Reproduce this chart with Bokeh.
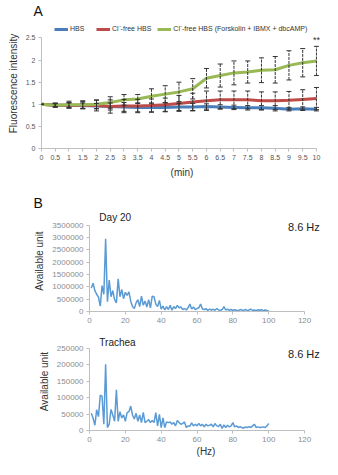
from bokeh.plotting import figure
from bokeh.models import (ColumnDataSource, Whisker, TeeHead, Legend, LegendItem,
                          FixedTicker, Label, NumeralTickFormatter, Range1d)
from bokeh.embed import file_html
from bokeh.resources import INLINE

# ---------------- Panel A data ----------------
time_min = [0, 0.5, 1, 1.5, 2, 2.5, 3, 3.5, 4, 4.5, 5, 5.5, 6, 6.5, 7, 7.5, 8, 8.5, 9, 9.5, 10]
time_labels = ["0", "0.5", "1", "1.5", "2", "2.5", "3", "3.5", "4", "4.5", "5", "5.5",
               "6", "6.5", "7", "7.5", "8", "8.5", "9", "9.5", "10"]
hbs = [1.0, 0.98, 0.98, 0.97, 0.96, 0.95, 0.94, 0.93, 0.93, 0.93, 0.94, 0.94, 0.95, 0.94,
       0.93, 0.92, 0.92, 0.91, 0.89, 0.90, 0.89]
hbs_err = [0, 0.03, 0.05, 0.06, 0.06, 0.08, 0.10, 0.10, 0.10, 0.10, 0.08, 0.08, 0.06, 0.05,
           0.05, 0.05, 0.05, 0.06, 0.04, 0.04, 0.04]
clfree = [1.0, 0.98, 0.98, 0.98, 0.97, 0.95, 0.96, 0.96, 0.97, 0.99, 1.02, 1.05, 1.08, 1.10,
          1.10, 1.10, 1.08, 1.08, 1.09, 1.11, 1.13]
clfree_err = [0, 0.04, 0.06, 0.08, 0.12, 0.15, 0.15, 0.15, 0.15, 0.15, 0.18, 0.20, 0.22, 0.20,
              0.20, 0.20, 0.20, 0.20, 0.20, 0.22, 0.25]
clfree_fsk = [1.0, 0.98, 0.99, 0.99, 1.0, 1.04, 1.10, 1.12, 1.18, 1.23, 1.28, 1.35, 1.59, 1.65,
              1.71, 1.73, 1.77, 1.78, 1.88, 1.94, 1.98]
clfree_fsk_err = [0, 0.05, 0.08, 0.09, 0.10, 0.13, 0.12, 0.10, 0.17, 0.19, 0.22, 0.23, 0.22,
                  0.26, 0.27, 0.25, 0.28, 0.30, 0.33, 0.32, 0.33]
series_names = ["HBS", "Cl\u207b-free HBS", "Cl\u207b-free HBS (Forskolin + IBMX + dbcAMP)"]
series_colors = ["#4a7ebb", "#be4b48", "#98b954"]
y_ticks_a = [0, 0.5, 1, 1.5, 2, 2.5]

# ---------------- Panel B data ----------------
freq_hz = list(range(1, 101))
day20 = [950000, 1150000, 850000, 700000, 580000, 220000, 1050000, 700000, 2950000, 400000,
         1280000, 600000, 850000, 480000, 350000, 1330000, 600000, 900000, 520000, 780000,
         650000, 800000, 420000, 200000, 120000, 350000, 480000, 200000, 620000, 250000,
         430000, 180000, 480000, 150000, 620000, 600000, 300000, 200000, 450000, 100000,
         220000, 60000, 200000, 80000, 250000, 50000, 200000, 120000, 250000, 150000,
         180000, 80000, 120000, 60000, 150000, 300000, 100000, 180000, 80000, 120000,
         150000, 300000, 100000, 80000, 120000, 40000, 100000, 60000, 90000, 50000,
         120000, 60000, 50000, 80000, 200000, 60000, 100000, 50000, 80000, 40000,
         70000, 50000, 30000, 80000, 60000, 40000, 90000, 30000, 60000, 100000,
         40000, 60000, 30000, 70000, 40000, 80000, 30000, 60000, 40000, 30000]
trachea = [52000, 38000, 16000, 63000, 42000, 107000, 104000, 19000, 201000, 9000,
           19000, 64000, 47000, 28000, 123000, 28000, 57000, 38000, 47000, 28000,
           54000, 57000, 74000, 47000, 35000, 52000, 28000, 47000, 24000, 55000,
           24000, 28000, 33000, 24000, 30000, 24000, 54000, 14000, 49000, 9000,
           38000, 9000, 26000, 24000, 26000, 19000, 24000, 14000, 30000, 24000,
           19000, 21000, 26000, 9000, 14000, 13000, 23000, 14000, 19000, 14000,
           21000, 14000, 19000, 11000, 19000, 14000, 16000, 19000, 11000, 21000,
           14000, 12000, 19000, 6000, 17000, 9000, 16000, 11000, 14000, 24000,
           11000, 14000, 9000, 12000, 9000, 7000, 11000, 9000, 12000, 9000,
           14000, 19000, 9000, 11000, 9000, 10000, 11000, 9000, 14000, 21000]
x_ticks_b = [0, 20, 40, 60, 80, 100, 120]
y_ticks_day20 = [0, 500000, 1000000, 1500000, 2000000, 2500000, 3000000, 3500000]
y_ticks_trachea = [0, 50000, 100000, 150000, 200000, 250000]
peak_label = "8.6 Hz"

FONT = "Liberation Sans"
AXIS_GRAY = "#bfbfbf"


def style_axes(p, tick_color, font_size):
    for ax in (p.xaxis[0], p.yaxis[0]):
        ax.axis_line_color = AXIS_GRAY
        ax.major_tick_line_color = AXIS_GRAY
        ax.minor_tick_line_color = None
        ax.major_tick_in = 0
        ax.major_tick_out = 3
        ax.major_label_standoff = 3
        ax.axis_label_standoff = 4
        ax.major_label_text_color = tick_color
        ax.major_label_text_font = FONT
        ax.major_label_text_font_size = font_size
        ax.axis_label_text_font = FONT
        ax.axis_label_text_font_style = "normal"
        ax.axis_label_text_color = "#333333"
        ax.axis_label_text_font_size = "10px"
    p.xgrid.visible = False
    p.ygrid.visible = False
    p.outline_line_color = None


def style_title(p, text, offset):
    p.title.text = text
    p.title.text_font = FONT
    p.title.text_font_size = "14px"
    p.title.text_font_style = "normal"
    p.title.text_color = "#111111"
    p.title.offset = offset
    p.title.standoff = 0


# ---------------- Panel A ----------------
pa = figure(width=322, height=190, output_backend="svg", toolbar_location=None,
            x_range=Range1d(0, 10.22), y_range=Range1d(0, 2.94),
            min_border_left=41, min_border_right=0, min_border_top=18, min_border_bottom=42)
style_title(pa, "A", -8)

items = []
for vals, errs, name, col in zip([hbs, clfree, clfree_fsk], [hbs_err, clfree_err, clfree_fsk_err],
                                 series_names, series_colors):
    src = ColumnDataSource(dict(x=time_min, y=vals,
                                lo=[v - e for v, e in zip(vals, errs)],
                                hi=[v + e for v, e in zip(vals, errs)]))
    r = pa.line("x", "y", source=src, line_color=col, line_width=3)
    items.append(LegendItem(label=name, renderers=[r]))
    w = Whisker(base="x", upper="hi", lower="lo", source=src, line_color="#333333",
                line_width=1, line_dash="3 1", level="overlay",
                upper_head=TeeHead(size=5, line_color="#333333", line_width=1),
                lower_head=TeeHead(size=5, line_color="#333333", line_width=1))
    pa.add_layout(w)

leg = Legend(items=items, orientation="horizontal", location=(13, 115),
             label_text_font=FONT, label_text_font_size="7px", label_text_color="#333333",
             glyph_width=14, glyph_height=6, spacing=6, padding=0, margin=0,
             label_standoff=2, label_height=8, border_line_color=None,
             background_fill_alpha=0)
pa.add_layout(leg)

pa.xaxis.ticker = FixedTicker(ticks=time_min)
pa.xaxis.major_label_overrides = {t: s for t, s in zip(time_min, time_labels)}
pa.xaxis.bounds = (0, 10)
pa.yaxis.ticker = FixedTicker(ticks=y_ticks_a)
pa.yaxis.bounds = (0, 2.5)
pa.xaxis.axis_label = "(min)"
pa.yaxis.axis_label = "Fluorescence intensity"
style_axes(pa, "#555555", "7px")
pa.add_layout(Label(x=10, y=2.45, text="**", text_font=FONT, text_font_size="9px",
                    text_color="#333333", text_align="center", text_baseline="middle"))

# ---------------- Panel B: Day 20 ----------------
pb = figure(width=322, height=135, output_backend="svg", toolbar_location=None,
            x_range=Range1d(0, 130), y_range=Range1d(0, 4100000),
            min_border_left=89, min_border_right=0, min_border_top=20, min_border_bottom=12)
style_title(pb, "B", -56)
pb.line(freq_hz, day20, line_color="#5b9bd5", line_width=1.5)
pb.xaxis.ticker = FixedTicker(ticks=x_ticks_b)
pb.xaxis.bounds = (0, 120)
pb.yaxis.ticker = FixedTicker(ticks=y_ticks_day20)
pb.yaxis.bounds = (0, 3500000)
pb.yaxis.formatter = NumeralTickFormatter(format="0")
pb.yaxis.axis_label = "Available unit"
style_axes(pb, "#8c8c8c", "8px")
pb.add_layout(Label(x=5.5, y=3820000, text="Day 20", text_font=FONT,
                    text_font_size="10px", text_color="#222222", text_baseline="middle"))
pb.add_layout(Label(x=128.5, y=3420000, text=peak_label, text_font=FONT,
                    text_font_size="11px", text_color="#222222", text_align="right",
                    text_baseline="middle"))

# ---------------- Panel B: Trachea ----------------
pc = figure(width=322, height=134, output_backend="svg", toolbar_location=None,
            x_range=Range1d(0, 130), y_range=Range1d(0, 297000),
            min_border_left=89, min_border_right=0, min_border_top=7, min_border_bottom=26)
pc.line(freq_hz, trachea, line_color="#5b9bd5", line_width=1.5)
pc.xaxis.ticker = FixedTicker(ticks=x_ticks_b)
pc.xaxis.bounds = (0, 120)
pc.yaxis.ticker = FixedTicker(ticks=y_ticks_trachea)
pc.yaxis.bounds = (0, 250000)
pc.yaxis.formatter = NumeralTickFormatter(format="0")
pc.yaxis.axis_label = "Available unit"
pc.xaxis.axis_label = "(Hz)"
style_axes(pc, "#8c8c8c", "8px")
pc.xaxis.axis_label_standoff = 1
pc.add_layout(Label(x=5.5, y=267000, text="Trachea", text_font=FONT,
                    text_font_size="10px", text_color="#222222", text_baseline="middle"))
pc.add_layout(Label(x=128.5, y=232000, text=peak_label, text_font=FONT,
                    text_font_size="11px", text_color="#222222", text_align="right",
                    text_baseline="middle"))

open("out.html", "w").write(file_html([pa, pb, pc], INLINE))
